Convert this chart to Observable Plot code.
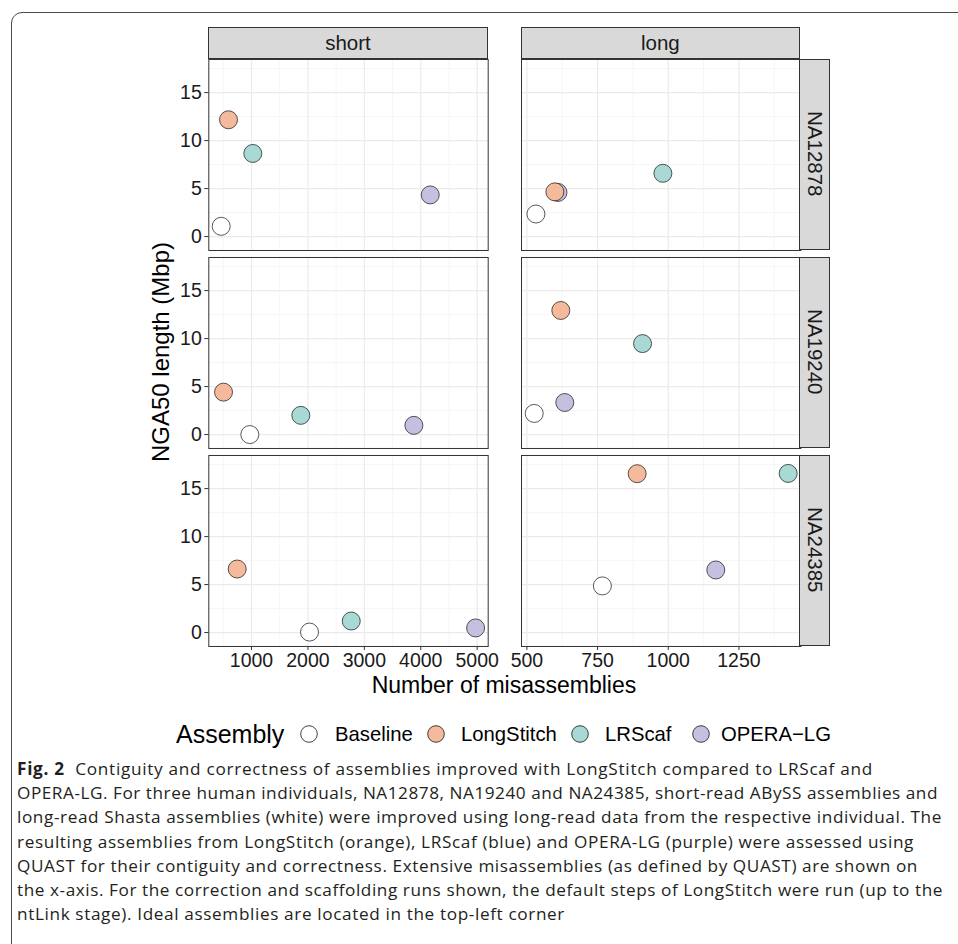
<!DOCTYPE html>
<html>
<head>
<meta charset="utf-8">
<script src="https://cdn.jsdelivr.net/npm/d3@7"></script>
<script src="https://cdn.jsdelivr.net/npm/@observablehq/plot@0.6"></script>
<style>
  body { margin: 0; background: #fff; }
  #fig { position: relative; width: 958px; height: 944px; overflow: hidden; font-family: "Liberation Sans", Arial, sans-serif; color: #1a1a1a; }
  .abs { position: absolute; }
  .box { left: 10.5px; top: 11.5px; width: 1000px; height: 1000px; border: 1.3px solid #4a4a4a; border-radius: 11px; box-sizing: border-box; }
  .strip { background: #D9D9D9; border: 1px solid #333; box-sizing: border-box; display: flex; align-items: center; justify-content: center; font-size: 20.5px; color: #1a1a1a; }
  .vstrip { writing-mode: vertical-rl; }
  .title { white-space: nowrap; color: #000; }
  .legend .lt { font-size: 25px; color: #000; white-space: nowrap; line-height: 30px; }
  .legend .ll { font-size: 20.3px; color: #000; white-space: nowrap; line-height: 30px; }
  .caption { left: 17px; top: 757px; font-family: "Open Sans", "Noto Sans", sans-serif; font-size: 17.2px; line-height: 24.2px; color: #231F20; white-space: nowrap; }
  .caption div { height: 24.2px; }
  .caption b { font-weight: 700; }
  svg.panels text { font-family: "Liberation Sans", Arial, sans-serif !important; font-size: 19.5px !important; font-variant: normal !important; }
</style>
</head>
<body>
<div id="fig"></div>
<script>
// ---------------- data ----------------
const individuals = ["NA12878", "NA19240", "NA24385"];
const readTypes = ["short", "long"];
const assemblies = ["Baseline", "LongStitch", "LRScaf", "OPERA-LG"];
const assemblyColors = ["#FFFFFF", "#F5B99B", "#A8D9D4", "#C5C0DF"];
const drawOrder = ["Baseline", "OPERA-LG", "LRScaf", "LongStitch"];

// rows: individuals; columns: assemblies (Baseline, LongStitch, LRScaf, OPERA-LG)
const shortMisassemblies = [
  [463, 592, 1023, 4168],
  [970, 504, 1874, 3878],
  [2028, 746, 2768, 4972]
];
const shortNGA50 = [
  [1.07, 12.17, 8.66, 4.34],
  [0.0, 4.42, 2.0, 0.96],
  [0.05, 6.62, 1.2, 0.48]
];
const longMisassemblies = [
  [532, 599, 981, 610],
  [526, 620, 909, 634],
  [767, 890, 1424, 1168]
];
const longNGA50 = [
  [2.35, 4.66, 6.59, 4.6],
  [2.2, 12.93, 9.48, 3.34],
  [4.86, 16.55, 16.58, 6.52]
];

const shortXTicks = [1000, 2000, 3000, 4000, 5000];
const shortXMinor = [500, 1500, 2500, 3500, 4500];
const longXTicks = [500, 750, 1000, 1250];
const longXMinor = [625, 875, 1125, 1375];
const yTicks = [0, 5, 10, 15];
const yMinor = [2.5, 7.5, 12.5, 17.5];

const shortXDomain = [243, 5195];
const longXDomain = [481, 1469];
const yDomain = [-1.45, 18.45];

const xTitle = "Number of misassemblies";
const yTitle = "NGA50 length (Mbp)";
const legendTitle = "Assembly";
const captionLines = [
  "<b>Fig. 2</b>&nbsp; Contiguity and correctness of assemblies improved with LongStitch compared to LRScaf and",
  "OPERA-LG. For three human individuals, NA12878, NA19240 and NA24385, short-read ABySS assemblies and",
  "long-read Shasta assemblies (white) were improved using long-read data from the respective individual. The",
  "resulting assemblies from LongStitch (orange), LRScaf (blue) and OPERA-LG (purple) were assessed using",
  "QUAST for their contiguity and correctness. Extensive misassemblies (as defined by QUAST) are shown on",
  "the x-axis. For the correction and scaffolding runs shown, the default steps of LongStitch were run (up to the",
  "ntLink stage). Ideal assemblies are located in the top-left corner"
];
const captionRightEdges = [873, 938, 942, 914, 918, 943, 565];

// ---------------- table ----------------
const misByRead = { short: shortMisassemblies, long: longMisassemblies };
const ngaByRead = { short: shortNGA50, long: longNGA50 };
const rows = [];
readTypes.forEach(read => individuals.forEach((ind, i) => assemblies.forEach((a, j) => {
  rows.push({ read, individual: ind, assembly: a, misassemblies: misByRead[read][i][j], nga50: ngaByRead[read][i][j] });
})));
rows.sort((a, b) => drawOrder.indexOf(a.assembly) - drawOrder.indexOf(b.assembly));

// ---------------- layout ----------------
const fig = document.getElementById("fig");
const box = document.createElement("div");
box.className = "abs box";
fig.appendChild(box);

const panelW = 279.4;
const facetsH = 589;
const topY = 57.7;
const stripH = 30.4;
const font = '"Liberation Sans", Arial, sans-serif';
const fmt = d3.format("d");

function column(read, xDomain, xTicks, xMinor, showY, marginLeft) {
  const marks = [
    Plot.gridX(xMinor, { stroke: "#F2F2F2", strokeOpacity: 1, strokeWidth: 0.7 }),
    Plot.gridY(yMinor, { stroke: "#F2F2F2", strokeOpacity: 1, strokeWidth: 0.7 }),
    Plot.gridX(xTicks, { stroke: "#EBEBEB", strokeOpacity: 1, strokeWidth: 1.2 }),
    Plot.gridY(yTicks, { stroke: "#EBEBEB", strokeOpacity: 1, strokeWidth: 1.2 }),
    Plot.axisX(xTicks, { label: null, tickSize: 4, tickPadding: 3, tickFormat: fmt, stroke: "#333", fill: "#1a1a1a", fontSize: 19.5 }),
    Plot.frame({ stroke: "#333", strokeWidth: 1 }),
    Plot.dot(rows.filter(d => d.read === read), {
      x: "misassemblies", y: "nga50", fy: "individual", fill: "assembly",
      r: 9, stroke: "#111", strokeWidth: 0.7
    })
  ];
  if (showY) marks.splice(4, 0, Plot.axisY(yTicks, { label: null, tickSize: 4, tickPadding: 3, tickFormat: fmt, stroke: "#333", fill: "#1a1a1a", fontSize: 19.5 }));
  return Plot.plot({
    className: "panels",
    width: marginLeft + panelW,
    height: facetsH + 34,
    marginTop: 0, marginBottom: 34, marginLeft, marginRight: 0,
    style: { fontFamily: font, fontSize: "19.5px", background: "transparent", overflow: "visible" },
    fy: { domain: individuals, paddingInner: 0.0352, paddingOuter: 0, axis: null, label: null },
    x: { domain: xDomain, label: null },
    y: { domain: yDomain, label: null, axis: showY ? undefined : null },
    color: { type: "ordinal", domain: assemblies, range: assemblyColors },
    marks
  });
}

const leftLeft = 140, leftMargin = 68.3;
const rightLeft = 520.7;
const plots = [
  { read: "short", el: column("short", shortXDomain, shortXTicks, shortXMinor, true, leftMargin), left: leftLeft },
  { read: "long", el: column("long", longXDomain, longXTicks, longXMinor, false, 0), left: rightLeft }
];
plots.forEach(p => {
  p.el.classList.add("abs");
  p.el.classList.add("panels");
  p.el.style.left = p.left + "px";
  p.el.style.top = topY + "px";
  fig.appendChild(p.el);
});

// strips (positioned from the plots' own scales)
plots.forEach(p => {
  const xr = p.el.scale("x").range;
  const s = document.createElement("div");
  s.className = "abs strip";
  s.style.left = (p.left + xr[0]) + "px";
  s.style.top = (topY - stripH) + "px";
  s.style.width = (xr[1] - xr[0]) + "px";
  s.style.height = (stripH + 1) + "px";
  s.textContent = p.read;
  fig.appendChild(s);
});
const rp = plots[1];
const fy = rp.el.scale("fy");
const rxr = rp.el.scale("x").range;
individuals.forEach(ind => {
  const s = document.createElement("div");
  s.className = "abs strip vstrip";
  s.style.left = (rp.left + rxr[1] - 1) + "px";
  s.style.top = (topY + fy.apply(ind)) + "px";
  s.style.width = (stripH + 1) + "px";
  s.style.height = fy.bandwidth + "px";
  s.textContent = ind;
  fig.appendChild(s);
});

// axis titles
const lxr = plots[0].el.scale("x").range;
const panelsLeft = leftLeft + lxr[0];
const panelsRight = rp.left + rxr[1];
const xt = document.createElement("div");
xt.className = "abs title";
xt.style.fontSize = "23px";
xt.textContent = xTitle;
fig.appendChild(xt);
xt.style.left = ((panelsLeft + panelsRight) / 2 - xt.offsetWidth / 2) + "px";
xt.style.top = "672px";

const yt = document.createElement("div");
yt.className = "abs title";
yt.style.fontSize = "24px";
yt.textContent = yTitle;
fig.appendChild(yt);
const cy = topY + facetsH / 2;
yt.style.left = (161 - yt.offsetWidth / 2) + "px";
yt.style.top = (cy - yt.offsetHeight / 2) + "px";
yt.style.transform = "rotate(-90deg)";

// legend (key centres / label starts follow the reference layout)
const legendY = 734;
const keyCenters = [309, 436, 580, 701];
const labelStarts = [335, 461, 605, 721];
const lg = document.createElement("div");
lg.className = "legend";
const lt = document.createElement("span");
lt.className = "abs lt";
lt.textContent = legendTitle;
lt.style.left = "176px";
lt.style.top = (legendY - 15) + "px";
lg.appendChild(lt);
const ns = "http://www.w3.org/2000/svg";
assemblies.forEach((a, i) => {
  const svg = document.createElementNS(ns, "svg");
  svg.setAttribute("width", 20); svg.setAttribute("height", 20);
  svg.setAttribute("class", "abs");
  svg.style.left = (keyCenters[i] - 10) + "px";
  svg.style.top = (legendY - 10) + "px";
  const c = document.createElementNS(ns, "circle");
  c.setAttribute("cx", 10); c.setAttribute("cy", 10); c.setAttribute("r", 8.3);
  c.setAttribute("fill", assemblyColors[i]); c.setAttribute("stroke", "#111"); c.setAttribute("stroke-width", 0.8);
  svg.appendChild(c);
  lg.appendChild(svg);
  const l = document.createElement("span");
  l.className = "abs ll";
  l.style.left = labelStarts[i] + "px";
  l.style.top = (legendY - 15) + "px";
  l.textContent = a.replace("-", "\u2212");
  lg.appendChild(l);
});
fig.appendChild(lg);

// caption: each line fitted to the reference line length
const cap = document.createElement("div");
cap.className = "abs caption";
fig.appendChild(cap);
captionLines.forEach((line, i) => {
  const d = document.createElement("div");
  const s = document.createElement("span");
  s.innerHTML = line;
  d.appendChild(s);
  cap.appendChild(d);
  const w = s.getBoundingClientRect().width;
  const n = s.textContent.length;
  s.style.letterSpacing = ((captionRightEdges[i] - 17 - w) / n) + "px";
});
</script>
</body>
</html>
